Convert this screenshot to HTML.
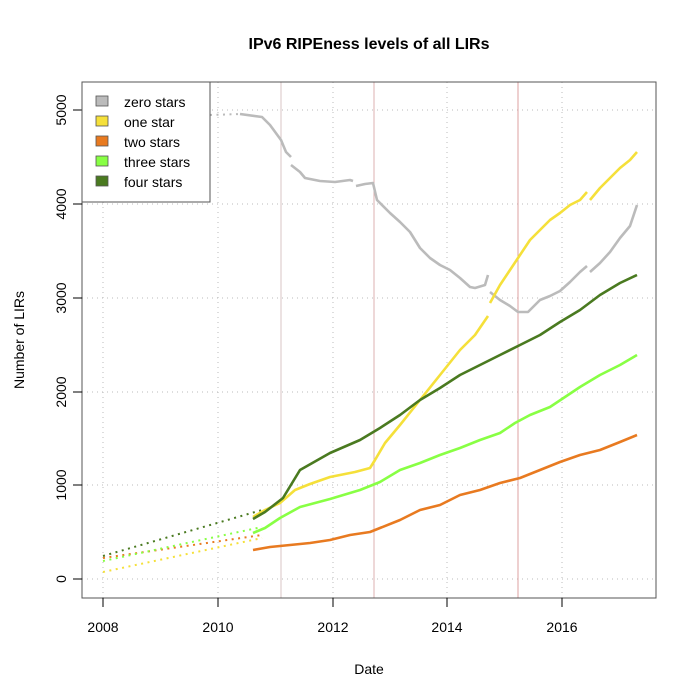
<!DOCTYPE html>
<html><head><meta charset="utf-8"><style>body{margin:0;background:#fff}svg{display:block}</style></head><body>
<svg width="700" height="700" viewBox="0 0 700 700" xmlns="http://www.w3.org/2000/svg" font-family="Liberation Sans, Arial, sans-serif">
<rect width="700" height="700" fill="#fff"/>
<text x="369" y="49" text-anchor="middle" font-size="16" font-weight="bold">IPv6 RIPEness levels of all LIRs</text>
<g stroke="#bbb" stroke-dasharray="1,4" stroke-width="1">
<line x1="103" y1="82" x2="103" y2="598"/><line x1="218" y1="82" x2="218" y2="598"/><line x1="333" y1="82" x2="333" y2="598"/><line x1="447" y1="82" x2="447" y2="598"/><line x1="562" y1="82" x2="562" y2="598"/>
<line x1="82" y1="579" x2="656" y2="579"/><line x1="82" y1="485" x2="656" y2="485"/><line x1="82" y1="392" x2="656" y2="392"/><line x1="82" y1="298" x2="656" y2="298"/><line x1="82" y1="204" x2="656" y2="204"/><line x1="82" y1="110" x2="656" y2="110"/>
</g>
<line x1="281" y1="82" x2="281" y2="598" stroke="#d8c4c4"/>
<line x1="374" y1="82" x2="374" y2="598" stroke="#dcb0b0"/>
<line x1="518" y1="82" x2="518" y2="598" stroke="#dca0a0"/>
<g fill="none" stroke-width="2" stroke-dasharray="2,4.5">
<line x1="210" y1="115" x2="240" y2="114" stroke="#bbb"/>
<line x1="103" y1="572" x2="262" y2="538" stroke="#f5e03a"/>
<line x1="103" y1="558" x2="262" y2="535" stroke="#e87a20"/>
<line x1="103" y1="561" x2="262" y2="527" stroke="#88ff44"/>
<line x1="103" y1="556" x2="262" y2="510" stroke="#4a7a20"/>
</g>
<g fill="none" stroke-width="2.6" stroke-linejoin="round">
<g stroke="#bbb">
<polyline points="240,114 262,117 270,125 281,140 286,152 291,157"/>
<polyline points="291,165 300,172 305,178 320,181 335,182 350,180 353,181"/>
<polyline points="356,186 365,184 373,183 377,200 390,213 400,222 410,232 420,248 430,258 440,265 450,270 460,278 470,287 475,288 485,285 488,275"/>
<polyline points="490,292 500,300 510,306 518,312 528,312 535,305 540,300 550,296 560,291 570,282 580,272 587,266"/>
<polyline points="590,272 600,263 610,252 620,238 630,226 637,205"/>
</g>
<g stroke="#f5e03a">
<polyline points="253,517 265,510 280,503 295,490 310,484 330,477 355,472 370,468 375,460 385,443 400,425 420,400 440,375 460,350 475,335 488,316"/>
<polyline points="490,303 500,285 510,270 520,255 530,240 540,230 550,220 560,213 570,205 580,200 587,192"/>
<polyline points="590,200 600,188 610,178 620,168 630,160 637,152"/>
</g>
<polyline stroke="#e87a20" points="253,550 270,547 290,545 310,543 330,540 350,535 370,532 380,528 400,520 420,510 440,505 460,495 480,490 500,483 520,478 540,470 560,462 580,455 600,450 620,442 637,435"/>
<polyline stroke="#88ff44" points="253,533 265,528 280,518 300,507 330,499 360,490 375,484 380,482 400,470 420,463 440,455 460,448 480,440 500,433 515,423 530,415 550,407 565,397 580,387 600,375 620,365 637,355"/>
<polyline stroke="#4a7a20" points="253,519 265,512 283,498 300,470 330,453 360,440 380,428 400,415 420,400 440,388 460,375 480,365 500,355 520,345 540,335 560,322 580,310 600,295 620,283 637,275"/>
</g>
<rect x="82" y="82" width="574" height="516" fill="none" stroke="#555" stroke-width="1"/>
<g stroke="#000"><line x1="103" y1="598" x2="103" y2="607"/><line x1="218" y1="598" x2="218" y2="607"/><line x1="333" y1="598" x2="333" y2="607"/><line x1="447" y1="598" x2="447" y2="607"/><line x1="562" y1="598" x2="562" y2="607"/>
<line x1="73" y1="579" x2="82" y2="579"/><line x1="73" y1="485" x2="82" y2="485"/><line x1="73" y1="392" x2="82" y2="392"/><line x1="73" y1="298" x2="82" y2="298"/><line x1="73" y1="204" x2="82" y2="204"/><line x1="73" y1="110" x2="82" y2="110"/></g>
<g font-size="14" text-anchor="middle">
<text x="103" y="632">2008</text><text x="218" y="632">2010</text><text x="333" y="632">2012</text><text x="447" y="632">2014</text><text x="562" y="632">2016</text>
<text x="369" y="674">Date</text>
<g transform="rotate(-90)"><text x="-579" y="66">0</text><text x="-485" y="66">1000</text><text x="-392" y="66">2000</text><text x="-298" y="66">3000</text><text x="-204" y="66">4000</text><text x="-110" y="66">5000</text><text x="-340" y="24">Number of LIRs</text></g>
</g>
<rect x="82" y="82" width="128" height="120" fill="#fff" stroke="#555"/>
<g stroke="#555" stroke-width="0.8">
<rect x="96" y="96" width="12" height="10" fill="#bbb"/>
<rect x="96" y="116" width="12" height="10" fill="#f5e03a"/>
<rect x="96" y="136" width="12" height="10" fill="#e87a20"/>
<rect x="96" y="156" width="12" height="10" fill="#88ff44"/>
<rect x="96" y="176" width="12" height="10" fill="#4a7a20"/>
</g>
<g font-size="14"><text x="124" y="107">zero stars</text><text x="124" y="127">one star</text><text x="124" y="147">two stars</text><text x="124" y="167">three stars</text><text x="124" y="187">four stars</text></g>
</svg>
</body></html>
